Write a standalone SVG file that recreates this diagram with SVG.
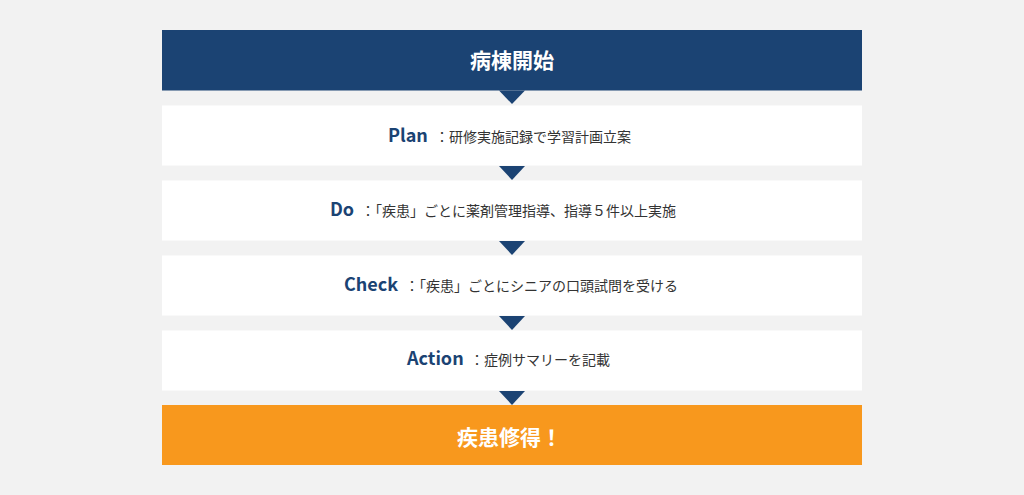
<svg xmlns="http://www.w3.org/2000/svg" width="1024" height="495" viewBox="0 0 1024 495">
<style>
text{font-family:"Noto Sans CJK JP","Noto Sans",sans-serif}
.hd{fill:#1b4373}
.or{fill:#f8981d}
.bx{fill:#ffffff}
.tri{fill:#1b4373}
.ttl{fill:#ffffff;font-size:21px;font-weight:700}
.key{fill:#1b4373;font-size:18px;font-weight:700}
.desc{fill:#333333;font-size:14px}
</style>
<rect width="1024" height="495" fill="#f2f2f2"/>
<g id="start">
<rect class="hd" x="162" y="30" width="700" height="60.5"/>
<text class="ttl" x="512" y="68" text-anchor="middle">病棟開始</text>
</g>
<g id="plan">
<rect class="bx" x="162" y="105.5" width="700" height="60"/>
<text class="key" x="388" y="142">Plan</text>
<text class="desc" x="435" y="142">：研修実施記録で学習計画立案</text>
</g>
<g id="do">
<rect class="bx" x="162" y="180.5" width="700" height="60"/>
<text class="key" x="330" y="216">Do</text>
<text class="desc" x="361" y="216">：「疾患」ごとに薬剤管理指導、指導５件以上実施</text>
</g>
<g id="check">
<rect class="bx" x="162" y="255.5" width="700" height="60"/>
<text class="key" x="344" y="291">Check</text>
<text class="desc" x="405" y="291">：「疾患」ごとにシニアの口頭試問を受ける</text>
</g>
<g id="action">
<rect class="bx" x="162" y="330.5" width="700" height="60"/>
<text class="key" x="407" y="365">Action</text>
<text class="desc" x="470" y="365">：症例サマリーを記載</text>
</g>
<g id="goal">
<rect class="or" x="162" y="405" width="700" height="60"/>
<text class="ttl" x="457" y="445">疾患修得！</text>
</g>
<g id="connectors">
<polygon class="tri" points="499,90.5 525,90.5 512,104"/>
<polygon class="tri" points="499,166 525,166 512,180"/>
<polygon class="tri" points="499,241 525,241 512,255"/>
<polygon class="tri" points="499,316 525,316 512,330"/>
<polygon class="tri" points="499,391 525,391 512,405"/>
</g>
</svg>
